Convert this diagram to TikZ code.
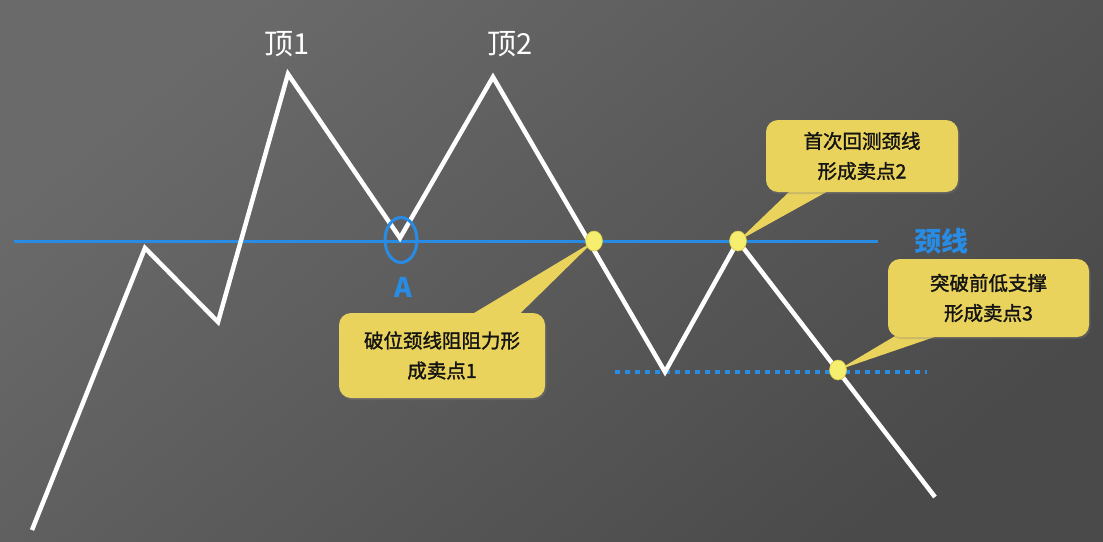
\documentclass[tikz,border=0pt]{standalone}
\usepackage{fontspec}
\setmainfont{Noto Sans CJK SC}
\newfontfamily\calloutfont[FakeBold=1.6]{Noto Sans CJK SC}
\usetikzlibrary{shapes.geometric,calc,shadows}
\definecolor{bgtop}{RGB}{106,106,106}
\definecolor{bgbot}{RGB}{74,74,74}
\definecolor{neck}{RGB}{40,140,228}
\definecolor{callout}{RGB}{234,211,92}
\definecolor{dotfill}{RGB}{246,238,110}
\definecolor{dotline}{RGB}{214,196,70}
\pgfdeclarelayer{backdrop}
\pgfdeclarelayer{pointer}
\pgfsetlayers{backdrop,pointer,main}
\begin{document}
\begin{tikzpicture}[x=1pt,y=-1pt,
  price/.style={draw=white,line width=4.5pt,line join=miter},
  neckline/.style={draw=neck,line width=3pt},
  support/.style={draw=neck,line width=4.2pt,dash pattern=on 5pt off 5pt},
  markdot/.style={ellipse,fill=dotfill,draw=dotline,line width=0.6pt,minimum width=17pt,minimum height=20pt,inner sep=0pt},
  bubble/.style={fill=callout,rounded corners=12pt,align=center,text=black!92,
    font=\calloutfont\fontsize{19.5}{30}\selectfont,inner sep=0pt,
    drop shadow={opacity=0.3,shadow xshift=1.5pt,shadow yshift=-2pt}},
  tail/.style={fill=callout},
  peaklabel/.style={text=white,font=\fontsize{29}{32}\selectfont},
  bluelabel/.style={text=neck,font=\bfseries\fontsize{27}{30}\selectfont}]
% background
\begin{pgfonlayer}{backdrop}
\shade[top color=bgtop,bottom color=bgbot,shading angle=40] (0,0) rectangle (1103,541);
\end{pgfonlayer}
\useasboundingbox (0,0) rectangle (1103,541);

% price path vertices
\coordinate (p0) at (32,530);
\coordinate (p1) at (145,248);
\coordinate (p2) at (218,322);
\coordinate (p3) at (288,74);
\coordinate (p4) at (400,238);
\coordinate (p5) at (493,77);
\coordinate (p6) at (665,372);
\coordinate (p7) at (738,241);
\coordinate (p8) at (935,497);

% neckline and prior-low support
\coordinate (n0) at (14,241);
\coordinate (n1) at (878,241);
\coordinate (s0) at (615,372);
\coordinate (s1) at (927,372);
\draw[neckline] (n0) -- (n1);
\draw[support] (s0) -- (s1);

\draw[price] (p0) -- (p1) -- (p2) -- (p3) -- (p4) -- (p5) -- (p6) -- (p7) -- (p8);

% point A on the neckline
\node[ellipse,draw=neck,line width=3pt,minimum width=32pt,minimum height=45pt,inner sep=0pt] (ringA) at (401,240) {};
\node[bluelabel] (labA) at (403,287) {A};
\node[bluelabel] (labNeck) at (941,241) {颈线};

% peak labels
\node[peaklabel] (top1) at (287,44) {顶1};
\node[peaklabel] (top2) at (510,44) {顶2};

% sell points
\node[markdot] (d1) at (594,241) {};
\node[markdot] (d2) at (738,241) {};
\node[markdot] (d3) at (838,370) {};

% callouts
\node[bubble,minimum width=206pt,minimum height=85pt] (c1) at (442,355.5) {破位颈线阻阻力形\\成卖点1};
\node[bubble,minimum width=192pt,minimum height=72pt] (c2) at (862,156) {首次回测颈线\\形成卖点2};
\node[bubble,minimum width=201pt,minimum height=78pt] (c3) at (988.5,298) {突破前低支撑\\形成卖点3};

% callout tails, under the dots
\begin{pgfonlayer}{pointer}
\fill[tail] ($(c1.north west)+(134,1)$) -- (d1.center) -- ($(c1.north west)+(181,1)$) -- cycle;
\fill[tail] ($(c2.south west)+(24,-1)$) -- (d2.center) -- ($(c2.south west)+(62,-1)$) -- cycle;
\fill[tail] ($(c3.south west)+(7,-1)$) -- (d3.center) -- ($(c3.south west)+(49,-1)$) -- cycle;
\end{pgfonlayer}
\end{tikzpicture}
\end{document}
